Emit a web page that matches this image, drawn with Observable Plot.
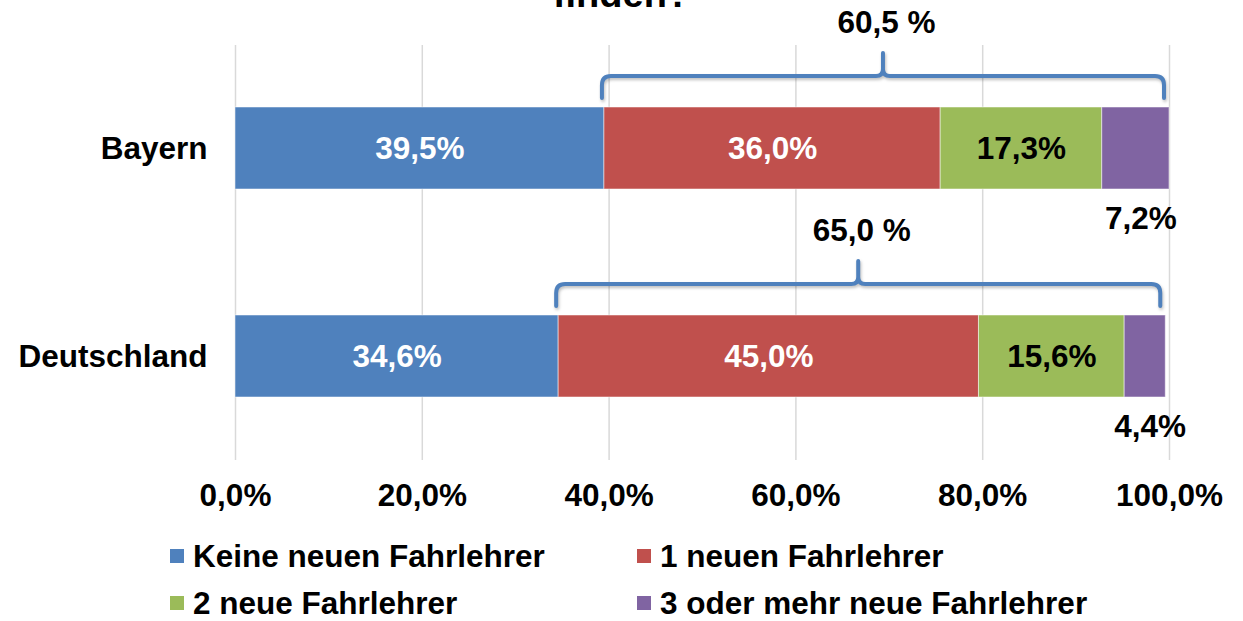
<!DOCTYPE html>
<html>
<head>
<meta charset="utf-8">
<script src="https://cdn.jsdelivr.net/npm/d3@7"></script>
<script src="https://cdn.jsdelivr.net/npm/@observablehq/plot@0.6"></script>
<style>
  html, body { margin: 0; padding: 0; background: #fff; }
  #wrap { position: relative; width: 1243px; height: 621px; font-family: "Liberation Sans", Arial, sans-serif; font-weight: bold; }
  .leg { position: absolute; font-size: 31.5px; line-height: 28px; color: #000; white-space: nowrap; }
  .sw { position: absolute; width: 14px; height: 14px; }
</style>
</head>
<body>
<div id="wrap"><div id="chart"></div></div>
<script>
const titleTail = "finden?";
const regions = ["Bayern", "Deutschland"];
const categories = ["Keine neuen Fahrlehrer", "1 neuen Fahrlehrer", "2 neue Fahrlehrer", "3 oder mehr neue Fahrlehrer"];
const bayern = [39.5, 36.0, 17.3, 7.2];
const deutschland = [34.6, 45.0, 15.6, 4.4];
const colors = ["#4F81BD", "#C0504D", "#9BBB59", "#8064A2"];
const labelColors = ["#fff", "#fff", "#000", "#000"];
const xTicks = [0, 20, 40, 60, 80, 100];

const series = [bayern, deutschland];
const fmt = v => v.toFixed(1).replace(".", ",");

// build stacked segments
const segs = [];
regions.forEach((r, ri) => {
  let acc = 0;
  series[ri].forEach((v, ci) => {
    segs.push({region: r, cat: categories[ci], ci, value: v, x1: acc, x2: acc + v});
    acc += v;
  });
});
const brackets = regions.map((r, ri) => {
  const vals = series[ri];
  const start = vals[0];
  const end = vals.reduce((a, b) => a + b, 0);
  return {region: r, start, end, total: end - start};
});

const inside = segs.filter(d => d.ci < 3);
const outside = segs.filter(d => d.ci === 3);

function bracketMark(index, scales, values, dimensions) {
  const xs = scales.x, ys = scales.y;
  let bw = typeof ys.bandwidth === "function" ? ys.bandwidth() : (scales.scales?.y?.bandwidth ?? 0);
  const ns = "http://www.w3.org/2000/svg";
  const g = document.createElementNS(ns, "g");
  for (const b of brackets) {
    const yc = ys(b.region) + bw / 2;
    const x1 = xs(b.start) - 2, x2 = xs(b.end) - 5, xm = (x1 + x2) / 2;
    const yH = yc - 72, yE = yc - 50, yP = yc - 95, r = 9, s = 7;
    const d = `M${x1},${yE} L${x1},${yH + r} Q${x1},${yH} ${x1 + r},${yH} L${xm - s},${yH} Q${xm},${yH} ${xm},${yH - s} L${xm},${yP}` +
              ` M${xm},${yH - s} Q${xm},${yH} ${xm + s},${yH} L${x2 - r},${yH} Q${x2},${yH} ${x2},${yH + r} L${x2},${yE}`;
    const p = document.createElementNS(ns, "path");
    p.setAttribute("d", d);
    p.setAttribute("fill", "none");
    p.setAttribute("stroke", "#4F81BD");
    p.setAttribute("stroke-width", "4");
    p.setAttribute("stroke-linecap", "round");
    p.setAttribute("stroke-linejoin", "round");
    p.setAttribute("style", "filter: drop-shadow(1px 2px 1.5px rgba(0,0,0,0.25))");
    g.appendChild(p);
    const t = document.createElementNS(ns, "text");
    t.setAttribute("x", (xs(b.start) + xs(b.end)) / 2);
    t.setAttribute("y", yc - 126);
    t.setAttribute("text-anchor", "middle");
    t.setAttribute("dy", "0.35em");
    t.setAttribute("fill", "#000");
    t.textContent = fmt(b.total) + " %";
    g.appendChild(t);
  }
  const tt = document.createElementNS(ns, "text");
  tt.setAttribute("x", dimensions.width / 2);
  tt.setAttribute("y", 7);
  tt.setAttribute("text-anchor", "middle");
  tt.setAttribute("font-size", "38");
  tt.textContent = titleTail;
  g.appendChild(tt);
  return g;
}

const chart = Plot.plot({
  width: 1243,
  height: 525,
  marginLeft: 235,
  marginRight: 74,
  marginTop: 45,
  marginBottom: 65,
  style: {fontFamily: "'Liberation Sans', Arial, sans-serif", fontSize: "31.5px", fontWeight: "bold", color: "#000", background: "#fff"},
  x: {domain: [0, 100]},
  y: {domain: regions, paddingInner: 0.605, paddingOuter: 0.3},
  color: {domain: categories, range: colors},
  marks: [
    Plot.gridX(xTicks, {stroke: "#D9D9D9", strokeOpacity: 1, strokeWidth: 1.5}),
    Plot.axisX({ticks: xTicks, tickSize: 0, tickPadding: 23, tickFormat: d => fmt(d) + "%", label: null}),
    Plot.axisY({tickSize: 0, tickPadding: 28, label: null}),
    Plot.barX(segs, {x1: "x1", x2: "x2", y: "region", fill: "cat", stroke: "#fff", strokeOpacity: 0.5, strokeWidth: 1}),
    Plot.text(inside, {x: d => (d.x1 + d.x2) / 2, y: "region", text: d => fmt(d.value) + "%", fill: d => labelColors[d.ci]}),
    Plot.text(outside, {x: d => (d.x1 + d.x2) / 2, y: "region", dy: 70, dx: 5, text: d => fmt(d.value) + "%", fill: "#000"}),
    bracketMark
  ]
});
document.getElementById("chart").appendChild(chart);

// legend
const wrap = document.getElementById("wrap");
const legPos = [[170, 556], [637, 556], [170, 603], [637, 603]];
categories.forEach((c, i) => {
  const [lx, ly] = legPos[i];
  const sw = document.createElement("div");
  sw.className = "sw";
  sw.style.left = lx + "px";
  sw.style.top = (ly - 7) + "px";
  sw.style.background = colors[i];
  wrap.appendChild(sw);
  const t = document.createElement("div");
  t.className = "leg";
  t.style.left = (lx + 23) + "px";
  t.style.top = (ly - 14) + "px";
  t.textContent = c;
  wrap.appendChild(t);
});
</script>
</body>
</html>
